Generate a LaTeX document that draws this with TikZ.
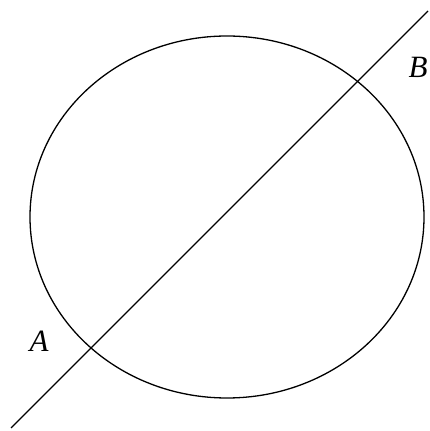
\documentclass[tikz,border=0pt]{standalone}
\usetikzlibrary{shapes.geometric}
\usepackage{fontspec}
\setmainfont{Liberation Serif}
\begin{document}
\begin{tikzpicture}[x=1pt,y=1pt,
  curve/.style={line width=1.3pt},
  lbl/.style={font=\fontsize{31}{34}\selectfont\itshape, inner sep=0pt}]
\useasboundingbox (0,0) rectangle (429,431);
\node[draw, curve, ellipse, minimum width=394pt, minimum height=362pt, inner sep=0pt] (ell) at (227,214) {};
\coordinate (p) at (11,3);
\coordinate (q) at (428,420);
\draw[curve] (p) -- (q);
\node[lbl] (A) at (39,90) {A};
\node[lbl] (B) at (418,364) {B};
\end{tikzpicture}
\end{document}
